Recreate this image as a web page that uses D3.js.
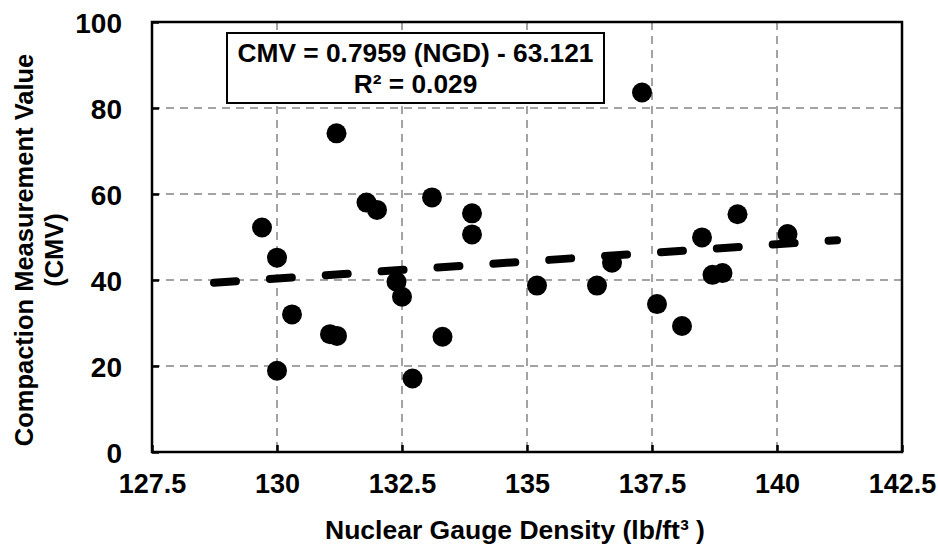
<!DOCTYPE html>
<html>
<head>
<meta charset="utf-8">
<script src="https://cdn.jsdelivr.net/npm/d3@7"></script>
<style>
  body { margin: 0; background: #fff; }
  svg text { font-family: "Liberation Sans", Arial, sans-serif; font-weight: bold; fill: #000; }
</style>
</head>
<body>
<div id="chart"><svg></svg></div>
<script>
// Nuclear gauge density (lb/ft3) and CMV readings
const ngd = [129.7, 130.0, 130.0, 130.3, 131.06, 131.2, 131.19, 131.79, 132.0, 133.1,
  133.9, 133.9, 132.39, 132.5, 132.71, 133.31, 135.2, 136.4, 136.7, 137.3,
  137.6, 138.1, 138.5, 138.71, 138.91, 139.21, 140.21];
const cmv = [52.2, 45.2, 18.9, 32.0, 27.4, 27.0, 74.1, 58.0, 56.3, 59.2,
  55.5, 50.6, 39.6, 36.1, 17.1, 26.8, 38.7, 38.7, 44.0, 83.6,
  34.4, 29.3, 49.9, 41.2, 41.6, 55.3, 50.7];

// regression from the annotation
const slope = 0.7959, intercept = -63.121;
const trendX = [128.74, 141.2];

const xTicks = [127.5, 130, 132.5, 135, 137.5, 140, 142.5];
const yTicks = [0, 20, 40, 60, 80, 100];
const eqLines = ["CMV = 0.7959 (NGD) - 63.121", "R\u00b2 = 0.029"];

const config = {
  width: 938, height: 548,
  margin: {top: 22, right: 36, bottom: 96, left: 152}
};
const width = config.width - config.margin.left - config.margin.right;
const height = config.height - config.margin.top - config.margin.bottom;

const svg = d3.select("#chart svg")
    .attr("width", config.width)
    .attr("height", config.height);

const chart = svg.append("g")
    .attr("transform", `translate(${config.margin.left},${config.margin.top})`);

const xScale = d3.scaleLinear().domain([127.5, 142.5]).range([0, width]);
const yScale = d3.scaleLinear().domain([0, 100]).range([height, 0]);

// gridlines (dashed grey)
chart.append("g").attr("class", "grid")
  .selectAll("line.gx")
  .data(xTicks.slice(1, -1))
  .join("line")
    .attr("x1", d => xScale(d)).attr("x2", d => xScale(d))
    .attr("y1", 0).attr("y2", height)
    .attr("stroke", "#a3a3a3").attr("stroke-width", 2)
    .attr("stroke-dasharray", "8,6");

chart.append("g").attr("class", "grid")
  .selectAll("line.gy")
  .data(yTicks.slice(1, -1))
  .join("line")
    .attr("x1", 0).attr("x2", width)
    .attr("y1", d => yScale(d)).attr("y2", d => yScale(d))
    .attr("stroke", "#a3a3a3").attr("stroke-width", 2)
    .attr("stroke-dasharray", "8,6");

// axes with inward ticks
const xAxis = d3.axisBottom(xScale).tickValues(xTicks).tickSize(-7).tickSizeOuter(0)
    .tickFormat(d3.format("~g"));
const yAxis = d3.axisLeft(yScale).tickValues(yTicks).tickSize(-7).tickSizeOuter(0);

const xAxisG = chart.append("g")
    .attr("transform", `translate(0,${height})`)
    .call(xAxis);
const yAxisG = chart.append("g").call(yAxis);

[xAxisG, yAxisG].forEach(g => {
  g.select(".domain").remove();
  g.selectAll(".tick line").attr("stroke", "#000").attr("stroke-width", 2.5);
  g.selectAll(".tick text").style("font-size", "27px");
});
xAxisG.selectAll(".tick text").attr("y", 0).attr("dy", "41px");
yAxisG.selectAll(".tick text").attr("x", -30).attr("dy", "0.36em");
yAxisG.selectAll(".tick text").style("font-size", "28px");

// plot frame
chart.append("rect")
    .attr("x", 0).attr("y", 0)
    .attr("width", width).attr("height", height)
    .attr("fill", "none").attr("stroke", "#000").attr("stroke-width", 2.5);

// data points
chart.append("g")
  .selectAll("circle")
  .data(ngd.map((d, i) => ({x: d, y: cmv[i]})))
  .join("circle")
    .attr("cx", d => xScale(d.x))
    .attr("cy", d => yScale(d.y))
    .attr("r", 10)
    .attr("fill", "#000");

// linear trend
const line = d3.line().x(d => xScale(d)).y(d => yScale(slope * d + intercept));
chart.append("path")
    .datum(trendX)
    .attr("d", line)
    .attr("fill", "none")
    .attr("stroke", "#000")
    .attr("stroke-width", 8)
    .attr("stroke-linecap", "round")
    .attr("stroke-dasharray", "22,34");

// equation box
const box = chart.append("g").attr("transform", `translate(${227 - config.margin.left},${33 - config.margin.top})`);
box.append("rect")
    .attr("width", 377).attr("height", 70)
    .attr("fill", "#fff").attr("stroke", "#000").attr("stroke-width", 2);
box.selectAll("text")
  .data(eqLines)
  .join("text")
    .attr("x", 377 / 2)
    .attr("y", (d, i) => 29 + i * 31)
    .attr("text-anchor", "middle")
    .style("font-size", "26.3px")
    .text(d => d);

// axis titles
svg.append("text")
    .attr("x", 515)
    .attr("y", 539)
    .attr("text-anchor", "middle")
    .style("font-size", "26.5px")
    .text("Nuclear Gauge Density (lb/ft\u00b3 )");

const yTitle = svg.append("text")
    .attr("transform", "translate(33,250) rotate(-90)")
    .attr("text-anchor", "middle")
    .style("font-size", "25.5px");
yTitle.append("tspan").attr("x", 0).attr("y", 0).text("Compaction Measurement Value");
yTitle.append("tspan").attr("x", 0).attr("y", 30).text("(CMV)");
</script>
</body>
</html>
